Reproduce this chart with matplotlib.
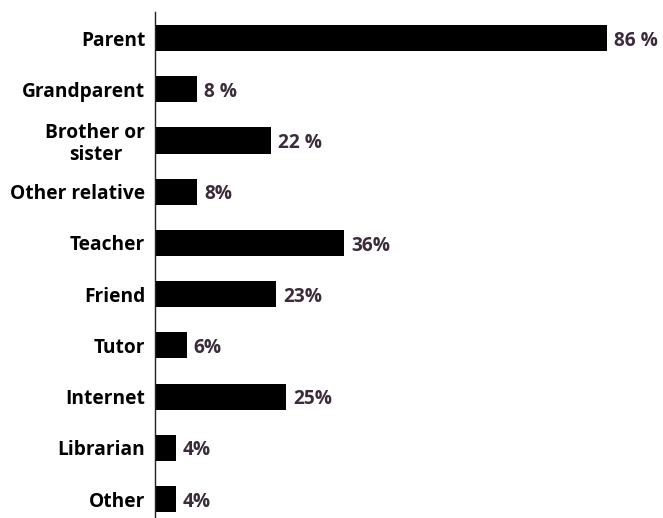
import matplotlib
matplotlib.use("Agg")
import matplotlib.pyplot as plt

categories = ["Parent", "Grandparent", "Brother or\nsister", "Other relative", "Teacher",
              "Friend", "Tutor", "Internet", "Librarian", "Other"]
values = [86, 8, 22, 8, 36, 23, 6, 25, 4, 4]
value_labels = ["86 %", "8 %", "22 %", "8%", "36%", "23%", "6%", "25%", "4%", "4%"]

plt.rcParams['font.family'] = ['Open Sans', 'DejaVu Sans']

W, H = 663, 518
fig = plt.figure(figsize=(W / 100, H / 100), dpi=100)
left = 155 / W
ppu = 452 / 86.0
xmax = 96
ax = fig.add_axes([left, 0, xmax * ppu / W, (518 - 12) / H])

y = list(range(len(categories)))
ax.barh(y, values, height=0.51, color="black")
ax.set_xlim(0, xmax)
ax.set_ylim(9.37, -0.51)

for yi, v, lab in zip(y, values, value_labels):
    ax.text(v + 7 / ppu, yi + 0.05, lab, ha="left", va="center", fontsize=13.8,
            fontweight="bold", color="#3b2b3b")

ax.set_yticks(y)
ax.set_yticklabels(categories, fontsize=13.8, fontweight="bold", color="black",
                   multialignment="center", linespacing=1.1)
ax.tick_params(axis="y", length=0, pad=7)
ax.set_xticks([])
for s in ["top", "right", "bottom"]:
    ax.spines[s].set_visible(False)
ax.spines["left"].set_linewidth(1.0)
ax.spines["left"].set_color("#222222")

fig.savefig("out.png", dpi=100)
